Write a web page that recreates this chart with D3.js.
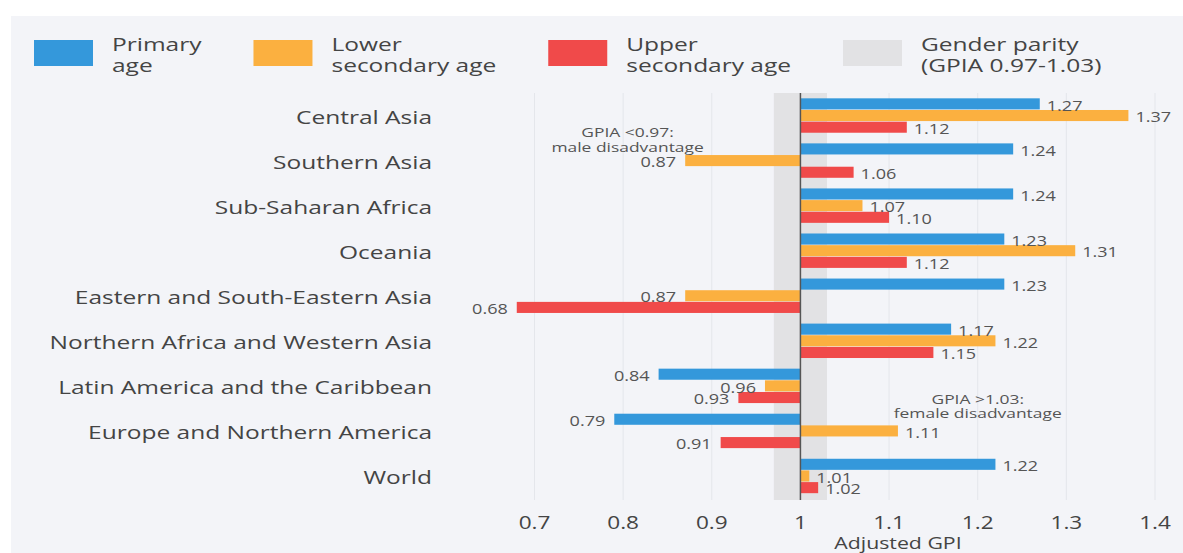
<!DOCTYPE html>
<html>
<head>
<meta charset="utf-8">
<script src="https://cdn.jsdelivr.net/npm/d3@7"></script>
<style>
  html, body { margin: 0; padding: 0; background: #ffffff; }
  svg { display: block; }
  text { font-family: "Open Sans", "Noto Sans", sans-serif; }
</style>
</head>
<body>
<svg id="chart" width="1183" height="553"></svg>
<script>
// ---- data ----
const categories = [
  "Central Asia",
  "Southern Asia",
  "Sub-Saharan Africa",
  "Oceania",
  "Eastern and South-Eastern Asia",
  "Northern Africa and Western Asia",
  "Latin America and the Caribbean",
  "Europe and Northern America",
  "World"
];
const seriesNames = ["Primary age", "Lower secondary age", "Upper secondary age"];
const primaryAge        = [1.27, 1.24, 1.24, 1.23, 1.23, 1.17, 0.84, 0.79, 1.22];
const lowerSecondaryAge = [1.37, 0.87, 1.07, 1.31, 0.87, 1.22, 0.96, 1.11, 1.01];
const upperSecondaryAge = [1.12, 1.06, 1.10, 1.12, 0.68, 1.15, 0.93, 0.91, 1.02];
const xTicks = [0.7, 0.8, 0.9, 1, 1.1, 1.2, 1.3, 1.4];
const parityBand = [0.97, 1.03];
const legendLabels = [["Primary", "age"], ["Lower", "secondary age"], ["Upper", "secondary age"], ["Gender parity", "(GPIA 0.97-1.03)"]];
const annotationLines = [["GPIA <0.97:", "male disadvantage"], ["GPIA >1.03:", "female disadvantage"]];
const annotationX = [0.805, 1.2];
const annotationCat = ["Central Asia", "Latin America and the Caribbean"];
const xTitle = "Adjusted GPI";

// ---- styles ----
const colors = ["#3498db", "#fbb040", "#f04a4a"];
const parityColor = "#e2e2e4";
const textColor = "#444";
const SX = 1.29; // horizontal text stretch of the reference

const svg = d3.select("#chart");
const W = 1183, H = 553;

// panel background
svg.append("rect").attr("x", 11).attr("y", 16).attr("width", W - 11).attr("height", H - 16).attr("fill", "#f3f4f8");

const x = d3.scaleLinear().domain([0.7, 1.4]).range([534.5, 1155]);
const plotTop = 93, plotBottom = 498.5;
const y = d3.scaleBand().domain(categories).range([plotTop, plotBottom]).paddingInner(0.223).paddingOuter(0.1115);
const ys = d3.scaleBand().domain(seriesNames).range([0, y.bandwidth()]);

function stretchedText(parent, px, py, str, opts) {
  const g = parent.append("g").attr("transform", `translate(${px},${py}) scale(${SX},1)`);
  const t = g.append("text")
    .attr("text-anchor", opts.anchor || "start")
    .attr("dominant-baseline", opts.baseline || "central")
    .attr("font-size", opts.size)
    .attr("fill", opts.fill || textColor)
    .text(str);
  return t;
}

// gridlines
svg.append("g").selectAll("line").data(xTicks).join("line")
  .attr("x1", d => x(d)).attr("x2", d => x(d))
  .attr("y1", plotTop).attr("y2", 500)
  .attr("stroke", "#e4e6eb").attr("stroke-width", 1);

// parity band
svg.append("rect")
  .attr("x", x(parityBand[0])).attr("width", x(parityBand[1]) - x(parityBand[0]))
  .attr("y", plotTop).attr("height", 500 - plotTop)
  .attr("fill", parityColor);

// bars
const seriesData = [primaryAge, lowerSecondaryAge, upperSecondaryAge];
const barG = svg.append("g");
seriesData.forEach((vals, si) => {
  const rows = categories.map((c, i) => ({ c, v: vals[i] }));
  barG.append("g").selectAll("rect").data(rows).join("rect")
    .attr("x", d => Math.min(x(1), x(d.v)))
    .attr("width", d => Math.abs(x(d.v) - x(1)))
    .attr("y", d => y(d.c) + ys(seriesNames[si]) + 0.3)
    .attr("height", ys.bandwidth() - 0.6)
    .attr("fill", colors[si]);
});

// parity line
svg.append("line")
  .attr("x1", x(1)).attr("x2", x(1)).attr("y1", plotTop).attr("y2", 500)
  .attr("stroke", "#555").attr("stroke-width", 1.5);

// value labels
const lblG = svg.append("g");
seriesData.forEach((vals, si) => {
  categories.forEach((c, i) => {
    const v = vals[i];
    const cy = y(c) + ys(seriesNames[si]) + ys.bandwidth() / 2 + 1.5;
    if (v >= 1) stretchedText(lblG, x(v) + 7, cy, v.toFixed(2), { size: 14, anchor: "start", fill: "#555" });
    else stretchedText(lblG, x(v) - 9, cy, v.toFixed(2), { size: 14, anchor: "end", fill: "#555" });
  });
});

// category labels
categories.forEach(c => {
  stretchedText(svg, 432, y(c) + y.bandwidth() / 2 + 1, c, { size: 19, anchor: "end", fill: "#444" });
});

// x tick labels
xTicks.forEach(t => {
  stretchedText(svg, x(t), 522, d3.format("")(t), { size: 17.5, anchor: "middle", fill: "#444" });
});
stretchedText(svg, x(1.11), 543, xTitle, { size: 16.5, anchor: "middle", fill: "#444" });

// annotations
annotationLines.forEach((lines, i) => {
  const baseY = y(annotationCat[i]) + y.bandwidth() / 2 + (i === 0 ? 16.5 : 12.5);
  lines.forEach((ln, k) => {
    stretchedText(svg, x(annotationX[i]), baseY + k * 14.5, ln, { size: 13.5, anchor: "middle", fill: "#555" });
  });
});

// legend
const legendColors = colors.concat([parityColor]);
let lx = 34;
legendLabels.forEach((lines, i) => {
  svg.append("rect").attr("x", lx).attr("y", 40).attr("width", 59).attr("height", 26).attr("fill", legendColors[i]);
  let maxW = 0;
  lines.forEach((ln, k) => {
    const t = stretchedText(svg, lx + 78, 44 + k * 21, ln, { size: 19, anchor: "start", fill: "#444" });
    maxW = Math.max(maxW, t.node().getComputedTextLength() * SX);
  });
  lx = lx + 78 + maxW + 52;
});
</script>
</body>
</html>
